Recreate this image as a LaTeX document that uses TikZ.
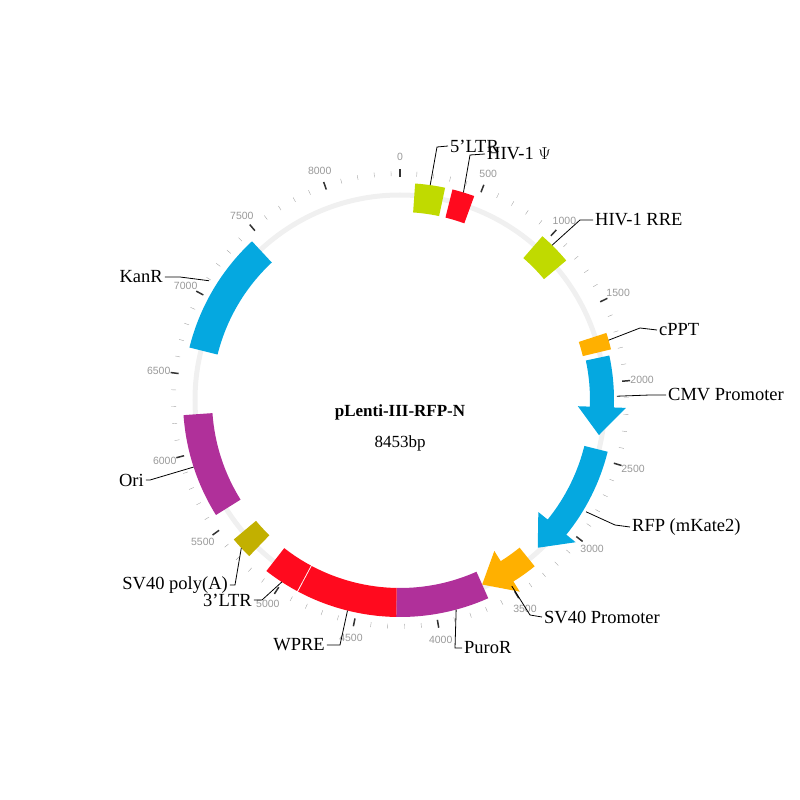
\documentclass[tikz,border=0pt]{standalone}
\usepackage{fontspec}
\setmainfont{Liberation Serif}
\setsansfont{Liberation Sans}
\usetikzlibrary{positioning}

\definecolor{mapblue}{HTML}{05A8E0}
\definecolor{mapgreen}{HTML}{C0DA00}
\definecolor{mapred}{HTML}{FF0A1E}
\definecolor{maporange}{HTML}{FFB000}
\definecolor{mappurple}{HTML}{B0309A}
\definecolor{mapolive}{HTML}{C2B000}

% plain band between two angles (clockwise from top)
\newcommand\feat[3]{\fill[#3] (90-#1:217) arc[start angle=90-#1,end angle=90-#2,radius=217]
  -- (90-#2:188) arc[start angle=90-#2,end angle=90-#1,radius=188] -- cycle;}
% band with an arrow head at its end
\newcommand\featarr[3]{\fill[#3] (90-#1:214) arc[start angle=90-#1,end angle=90-#2+8,radius=214]
  -- (90-#2+8:226) -- (90-#2:202) -- (90-#2+8:178)
  -- (90-#2+8:190) arc[start angle=90-#2+8,end angle=90-#1,radius=190] -- cycle;}

\tikzset{
  lbl/.style={font=\fontsize{18.5}{20}\selectfont, inner sep=2pt},
  lead/.style={draw=black, line width=0.8pt},
  tck/.style={font=\sffamily\fontsize{10.5}{12}\selectfont, text=gray!80}
}

\begin{document}
\begin{tikzpicture}[x=1pt,y=1pt]
  \useasboundingbox (-400,-400) rectangle (400,400);

  %\draw [help lines] (-400,-400) grid[step=50] (400,400);

  \draw[gray!12, line width=5pt] (0,0) circle (205);

  % ticks
  \foreach \b in {100,200,...,8400}
    \draw[gray!70, thin] ({90-\b/8453*360}:224) -- ({90-\b/8453*360}:229);
  \foreach \b in {0,500,...,8000} {
    \draw[black!80, line width=1.5pt] ({90-\b/8453*360}:223) -- ({90-\b/8453*360}:231);
    \node[tck] (t\b) at ({90-\b/8453*360}:243) {\b};
  }

  % features
  \feat{4}{12}{mapgreen}
  \feat{14}{20}{mapred}
  \feat{41}{50}{mapgreen}
  \feat{72}{76.5}{maporange}
  \featarr{78}{100}{mapblue}
  \featarr{104}{137}{mapblue}
  \featarr{141}{156}{maporange}
  \feat{156}{181}{mappurple}
  \feat{181}{208}{mapred}
  \feat{208.3}{218}{mapred}
  \feat{224}{230}{mapolive}
  \feat{238}{266}{mappurple}
  \feat{284}{317}{mapblue}

  % title
  \node[font=\bfseries\fontsize{17}{19}\selectfont] (title) at (0,-12) {pLenti-III-RFP-N};
  \node[font=\fontsize{17}{19}\selectfont] (size) at (0,-43) {8453bp};

  % labels
  \node[lbl, anchor=west] (ltr5) at (48,254) {5'LTR};
  \node[lbl, anchor=west] (psi) at (85,246) {HIV-1 $\Psi$};
  \node[lbl, anchor=west] (rre) at (193,180) {HIV-1 RRE};
  \node[lbl, anchor=west] (cppt) at (257,70) {cPPT};
  \node[lbl, anchor=west] (cmv) at (266,5) {CMV Promoter};
  \node[lbl, anchor=west] (rfp) at (230,-127) {RFP (mKate2)};
  \node[lbl, anchor=west] (sv40p) at (142,-217) {SV40 Promoter};
  \node[lbl, anchor=west] (puro) at (62,-248) {PuroR};
  \node[lbl, anchor=east] (wpre) at (-73,-245) {WPRE};
  \node[lbl, anchor=east] (ltr3) at (-146,-200) {3'LTR};
  \node[lbl, anchor=east] (polya) at (-170,-185) {SV40 poly(A)};
  \node[lbl, anchor=east] (ori) at (-254,-80) {Ori};
  \node[lbl, anchor=east] (kanr) at (-235,123) {KanR};

  \coordinate (e1) at (82:217);  \coordinate (e2) at (73:217);
  \coordinate (e3) at (45.5:217); \coordinate (e4) at (16:217);
  \coordinate (e5) at (1:217);   \coordinate (e6) at (-31:217);
  \coordinate (e7) at (-59:217); \coordinate (e8) at (-75:217);
  \coordinate (e9) at (-104:217); \coordinate (e10) at (-123:217);
  \coordinate (e11) at (-137:217); \coordinate (e12) at (-162:217);
  \coordinate (e13) at (148:225);

  \draw[lead] (e1) -- (37,253) -- (ltr5.west);
  \draw[lead] (e2) -- (70,245) -- (psi.west);
  \draw[lead] (e3) -- (180,180) -- (rre.west);
  \draw[lead] (e4) -- (240,72) -- (cppt.west);
  \draw[lead] (e5) -- (250,5) -- (cmv.west);
  \draw[lead] (e6) -- (215,-125) -- (rfp.west);
  \draw[lead] (e7) -- (130,-215) -- (sv40p.west);
  \draw[lead] (e8) -- (55,-248) -- (puro.west);
  \draw[lead] (e9) -- (-60,-245) -- (wpre.east);
  \draw[lead] (e10) -- (-138,-200) -- (ltr3.east);
  \draw[lead] (e11) -- (-165,-185) -- (polya.east);
  \draw[lead] (e12) -- (-250,-80) -- (ori.east);
  \draw[lead] (e13) -- (-220,123) -- (kanr.east);
\end{tikzpicture}
\end{document}
